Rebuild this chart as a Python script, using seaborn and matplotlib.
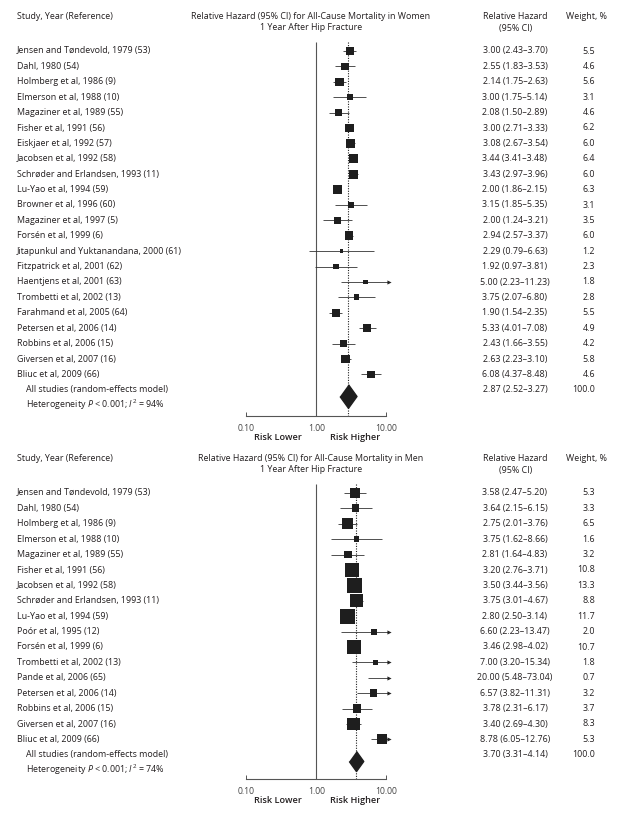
import matplotlib
matplotlib.use("Agg")
import matplotlib.pyplot as plt
import matplotlib.transforms as mtransforms
import pandas as pd
import seaborn as sns

# Data: women
women_studies = [
    "Jensen and Tøndevold, 1979 (53)", "Dahl, 1980 (54)", "Holmberg et al, 1986 (9)",
    "Elmerson et al, 1988 (10)", "Magaziner et al, 1989 (55)", "Fisher et al, 1991 (56)",
    "Eiskjaer et al, 1992 (57)", "Jacobsen et al, 1992 (58)", "Schrøder and Erlandsen, 1993 (11)",
    "Lu-Yao et al, 1994 (59)", "Browner et al, 1996 (60)", "Magaziner et al, 1997 (5)",
    "Forsén et al, 1999 (6)", "Jitapunkul and Yuktanandana, 2000 (61)", "Fitzpatrick et al, 2001 (62)",
    "Haentjens et al, 2001 (63)", "Trombetti et al, 2002 (13)", "Farahmand et al, 2005 (64)",
    "Petersen et al, 2006 (14)", "Robbins et al, 2006 (15)", "Giversen et al, 2007 (16)",
    "Bliuc et al, 2009 (66)",
]
women_rh = [3.00, 2.55, 2.14, 3.00, 2.08, 3.00, 3.08, 3.44, 3.43, 2.00, 3.15,
            2.00, 2.94, 2.29, 1.92, 5.00, 3.75, 1.90, 5.33, 2.43, 2.63, 6.08]
women_lo = [2.43, 1.83, 1.75, 1.75, 1.50, 2.71, 2.67, 3.41, 2.97, 1.86, 1.85,
            1.24, 2.57, 0.79, 0.97, 2.23, 2.07, 1.54, 4.01, 1.66, 2.23, 4.37]
women_hi = [3.70, 3.53, 2.63, 5.14, 2.89, 3.33, 3.54, 3.48, 3.96, 2.15, 5.35,
            3.21, 3.37, 6.63, 3.81, 11.23, 6.80, 2.35, 7.08, 3.55, 3.10, 8.48]
women_wt = [5.5, 4.6, 5.6, 3.1, 4.6, 6.2, 6.0, 6.4, 6.0, 6.3, 3.1,
            3.5, 6.0, 1.2, 2.3, 1.8, 2.8, 5.5, 4.9, 4.2, 5.8, 4.6]
women_all = [2.87, 2.52, 3.27]
women_i2 = 94

# Data: men
men_studies = [
    "Jensen and Tøndevold, 1979 (53)", "Dahl, 1980 (54)", "Holmberg et al, 1986 (9)",
    "Elmerson et al, 1988 (10)", "Magaziner et al, 1989 (55)", "Fisher et al, 1991 (56)",
    "Jacobsen et al, 1992 (58)", "Schrøder and Erlandsen, 1993 (11)", "Lu-Yao et al, 1994 (59)",
    "Poór et al, 1995 (12)", "Forsén et al, 1999 (6)", "Trombetti et al, 2002 (13)",
    "Pande et al, 2006 (65)", "Petersen et al, 2006 (14)", "Robbins et al, 2006 (15)",
    "Giversen et al, 2007 (16)", "Bliuc et al, 2009 (66)",
]
men_rh = [3.58, 3.64, 2.75, 3.75, 2.81, 3.20, 3.50, 3.75, 2.80, 6.60, 3.46,
          7.00, 20.00, 6.57, 3.78, 3.40, 8.78]
men_lo = [2.47, 2.15, 2.01, 1.62, 1.64, 2.76, 3.44, 3.01, 2.50, 2.23, 2.98,
          3.20, 5.48, 3.82, 2.31, 2.69, 6.05]
men_hi = [5.20, 6.15, 3.76, 8.66, 4.83, 3.71, 3.56, 4.67, 3.14, 13.47, 4.02,
          15.34, 73.04, 11.31, 6.17, 4.30, 12.76]
men_wt = [5.3, 3.3, 6.5, 1.6, 3.2, 10.8, 13.3, 8.8, 11.7, 2.0, 10.7,
          1.8, 0.7, 3.2, 3.7, 8.3, 5.3]
men_all = [3.70, 3.31, 4.14]
men_i2 = 74

sns.set_theme(style="white")
plt.rcParams["font.family"] = ["Open Sans", "DejaVu Sans"]
plt.rcParams["mathtext.fontset"] = "custom"
plt.rcParams["mathtext.rm"] = "Open Sans"
plt.rcParams["mathtext.it"] = "Open Sans:italic"

W, H = 625, 814
TXT = "#231f20"
FS = 6.4
CLIP = 11.0

fig = plt.figure(figsize=(W / 100, H / 100), dpi=100)


def forest(top_px, axis_row, title, studies, rh, lo, hi, wt, summ, i2, s_per_w, dia_h):
    row_px = 15.4
    ax_top = top_px - 0.9 * row_px
    ax_bot = top_px + axis_row * row_px
    x0 = 246.3
    ax = fig.add_axes([x0 / W, 1 - ax_bot / H, 147 / W, (ax_bot - ax_top) / H])
    ax.set_xscale("log")
    ax.set_xlim(10 ** -1, 10 ** 1.1)
    ax.set_ylim(axis_row, -0.9)

    df = pd.DataFrame({"study": studies, "rh": rh, "lo": lo, "hi": hi, "wt": wt})
    df["row"] = range(len(df))
    df["hi_c"] = df["hi"].clip(upper=CLIP)

    # reference line and summary line
    ax.vlines(1, -0.6, axis_row, color="#555555", lw=0.8)
    ax.vlines(summ[0], -0.6, axis_row, color="#222222", lw=0.8, linestyles=(0, (1, 1.3)))

    # CIs
    ax.hlines(df["row"], df["lo"], df["hi_c"], color="#333333", lw=0.6)
    arr = df[df["hi"] > 10]
    ax.scatter(arr["hi_c"], arr["row"], marker=">", s=9, color="#222222", lw=0, zorder=3)

    # squares
    shown = df[df["rh"] < CLIP]
    sns.scatterplot(data=shown, x="rh", y="row", size="wt", sizes=(0, s_per_w * shown["wt"].max()),
                    size_norm=(0, shown["wt"].max()), marker="s", color="#1e1e1e",
                    linewidth=0, legend=False, ax=ax, zorder=4)

    # summary diamond
    n = len(df)
    diamond = [(0, 1), (0.72, 0), (0, -1), (-0.72, 0)]
    ax.plot([summ[0]], [n + 0.4], marker=diamond, markersize=dia_h, color="#1e1e1e", zorder=5)

    # axis
    for sp in ["top", "right", "left"]:
        ax.spines[sp].set_visible(False)
    ax.spines["bottom"].set_bounds(0.1, 10)
    ax.spines["bottom"].set_color("#555555")
    ax.spines["bottom"].set_linewidth(0.8)
    ax.set_xticks([0.1, 1, 10])
    ax.set_xticklabels(["0.10", "1.00", "10.00"])
    ax.minorticks_off()
    ax.tick_params(axis="x", direction="in", length=3, width=0.7, color="#555555",
                   labelsize=6.2, labelcolor="#444444", pad=6, bottom=True)
    ax.set_yticks([])
    ax.set_xlabel("")
    ax.set_ylabel("")

    tr = mtransforms.blended_transform_factory(fig.transFigure, ax.transData)
    kw = dict(transform=tr, color=TXT, fontsize=FS, va="center")

    # headers
    ax.text(17 / W, -2.27, "Study, Year (Reference)", **kw)
    ax.text(311 / W, -2.27, title, ha="center", **kw)
    ax.text(311 / W, -1.5, "1 Year After Hip Fracture", ha="center", **kw)
    ax.text(515 / W, -2.27, "Relative Hazard", ha="center", **kw)
    ax.text(516 / W, -1.45, "(95% CI)", ha="center", **kw)
    ax.text(587 / W, -2.27, "Weight, %", ha="center", **kw)

    # rows
    for r in df.itertuples():
        ax.text(17 / W, r.row, r.study, **kw)
        ax.text(515 / W, r.row, f"{r.rh:.2f} ({r.lo:.2f}–{r.hi:.2f})", ha="center", **kw)
        ax.text(595 / W, r.row, f"{r.wt:.1f}", ha="right", **kw)
    ax.text(26 / W, n, "All studies (random-effects model)", **kw)
    ax.text(515 / W, n, f"{summ[0]:.2f} ({summ[1]:.2f}–{summ[2]:.2f})", ha="center", **kw)
    ax.text(595 / W, n, "100.0", ha="right", **kw)
    ax.text(26 / W, n + 1, rf"Heterogeneity $\it{{P}}$ < 0.001; $\it{{I}}^2$ = {i2}%", **kw)

    # risk labels
    ry = axis_row + 21.5 / row_px
    kb = dict(kw, fontsize=6.6, fontweight="semibold")
    ax.text(278 / W, ry, "Risk Lower", ha="center", **kb)
    ax.text(355 / W, ry, "Risk Higher", ha="center", **kb)
    return ax


forest(51, 23.7, "Relative Hazard (95% CI) for All-Cause Mortality in Women",
       women_studies, women_rh, women_lo, women_hi, women_wt, women_all, women_i2, 6.5, 17)
forest(493, 18.57, "Relative Hazard (95% CI) for All-Cause Mortality in Men",
       men_studies, men_rh, men_lo, men_hi, men_wt, men_all, men_i2, 9.6, 14.5)

fig.savefig("out.png", dpi=100, facecolor="white")
